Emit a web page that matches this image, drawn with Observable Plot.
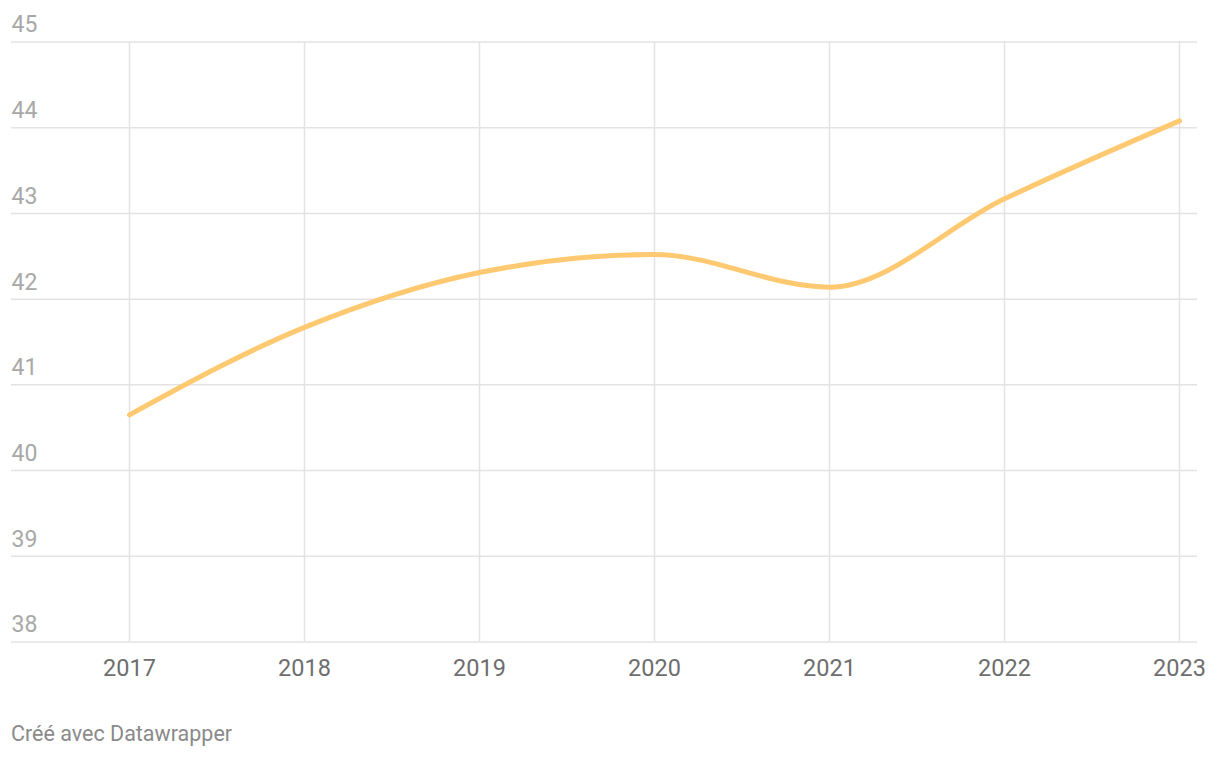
<!DOCTYPE html>
<html>
<head>
<meta charset="utf-8">
<script src="https://cdn.jsdelivr.net/npm/d3@7"></script>
<script src="https://cdn.jsdelivr.net/npm/@observablehq/plot@0.6"></script>
<style>
  html, body { margin: 0; padding: 0; background: #fff; }
  body { width: 1220px; height: 758px; position: relative; font-family: Roboto, "Noto Sans", sans-serif; }
  #caption { position: absolute; left: 11px; top: 721px; font-size: 21.5px; color: #8a8a8a; font-family: Roboto, sans-serif; }
</style>
</head>
<body>
<div id="chart"></div>
<div id="caption">Créé avec Datawrapper</div>
<script>
const years = [2017, 2018, 2019, 2020, 2021, 2022, 2023];
const values = [40.65, 41.67, 42.31, 42.52, 42.14, 43.17, 44.08];
const yTicks = [38, 39, 40, 41, 42, 43, 44, 45];

const data = years.map((y, i) => ({year: y, value: values[i]}));

const chart = Plot.plot({
  width: 1220,
  height: 690,
  marginTop: 41.5,
  marginBottom: 48.5,
  marginLeft: 11,
  marginRight: 23,
  style: {fontFamily: "Roboto, sans-serif", background: "#fff"},
  x: {type: "linear", domain: [2017, 2023], range: [129, 1179]},
  y: {domain: [38, 45]},
  marks: [
    Plot.ruleY(yTicks, {stroke: "#e3e3e3", strokeWidth: 1.5}),
    Plot.ruleX(years, {stroke: "#e3e3e3", strokeWidth: 1.5}),
    Plot.axisY(yTicks, {
      anchor: "left", tickSize: 0, tickPadding: 0, textAnchor: "start",
      tickFormat: d => String(d),
      dx: 0, dy: -17, fontSize: 23, fill: "#a8a8a8", label: null
    }),
    Plot.axisX(years, {
      anchor: "bottom", tickSize: 0, tickPadding: 17, tickFormat: d => String(d),
      fontSize: 23.5, fill: "#6e6e6e", label: null
    }),
    Plot.line(data, {x: "year", y: "value", curve: "monotone-x", stroke: "#ffc971", strokeWidth: 5, strokeLinecap: "round"})
  ]
});
document.getElementById("chart").appendChild(chart);
</script>
</body>
</html>
